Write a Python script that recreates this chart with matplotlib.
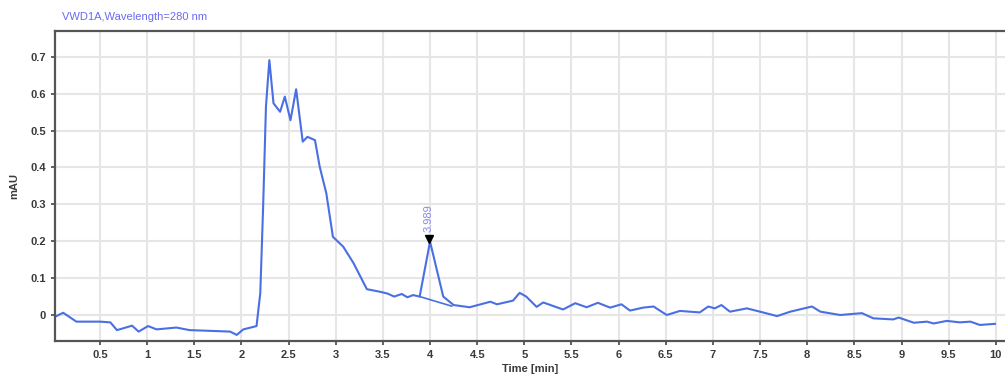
import matplotlib
matplotlib.use("Agg")
import matplotlib.pyplot as plt

plt.rcParams['font.family'] = ['Liberation Sans', 'DejaVu Sans']

# chromatogram trace (time in min, signal in mAU)
time = [0.02, 0.11, 0.25, 0.50, 0.61, 0.68, 0.84, 0.91, 1.01, 1.10, 1.31, 1.45,
        1.67, 1.88, 1.95, 2.02, 2.13, 2.16, 2.20, 2.23, 2.26, 2.296, 2.34, 2.41,
        2.46, 2.52, 2.58, 2.65, 2.70, 2.78, 2.83, 2.90, 2.97, 3.08, 3.19, 3.33,
        3.47, 3.55, 3.62, 3.70, 3.76, 3.82, 3.89, 4.00, 4.14, 4.25, 4.42, 4.64,
        4.71, 4.88, 4.95, 5.02, 5.13, 5.20, 5.41, 5.54, 5.66, 5.78, 5.91, 6.03,
        6.12, 6.26, 6.37, 6.51, 6.65, 6.86, 6.95, 7.02, 7.09, 7.18, 7.36, 7.53,
        7.68, 7.82, 8.05, 8.14, 8.35, 8.58, 8.70, 8.91, 8.97, 9.13, 9.27, 9.34,
        9.48, 9.62, 9.73, 9.83, 9.99]
signal = [-0.005, 0.006, -0.018, -0.018, -0.020, -0.041, -0.029, -0.045, -0.030,
          -0.039, -0.034, -0.041, -0.043, -0.045, -0.054, -0.039, -0.032, -0.030,
          0.060, 0.293, 0.565, 0.691, 0.574, 0.551, 0.592, 0.528, 0.612, 0.470,
          0.483, 0.474, 0.402, 0.330, 0.212, 0.185, 0.140, 0.070, 0.063, 0.058,
          0.050, 0.057, 0.048, 0.054, 0.050, 0.199, 0.050, 0.027, 0.021, 0.036,
          0.029, 0.039, 0.060, 0.050, 0.022, 0.034, 0.015, 0.032, 0.021, 0.033,
          0.020, 0.029, 0.012, 0.020, 0.023, 0.000, 0.011, 0.007, 0.023, 0.018,
          0.027, 0.009, 0.018, 0.007, -0.003, 0.009, 0.023, 0.009, 0.000, 0.005,
          -0.009, -0.012, -0.007, -0.021, -0.018, -0.023, -0.016, -0.020, -0.018,
          -0.027, -0.024]

# integrated peak: baseline and label
peak_rt = 3.989
peak_top = 0.205
base_x = [3.89, 4.23]
base_y = [0.050, 0.024]

xticks = [0.5, 1, 1.5, 2, 2.5, 3, 3.5, 4, 4.5, 5, 5.5, 6, 6.5, 7, 7.5, 8, 8.5, 9, 9.5, 10]
xticklabels = ['0.5', '1', '1.5', '2', '2.5', '3', '3.5', '4', '4.5', '5', '5.5', '6',
               '6.5', '7', '7.5', '8', '8.5', '9', '9.5', '10']
yticks = [0, 0.1, 0.2, 0.3, 0.4, 0.5, 0.6, 0.7]
yticklabels = ['0', '0.1', '0.2', '0.3', '0.4', '0.5', '0.6', '0.7']

fig = plt.figure(figsize=(10.05, 3.84), dpi=100)
ax = fig.add_axes([55/1005, 43/384, 950/1005, 310/384])

ax.plot(time, signal, color='#4a6fe3', lw=1.5)
ax.plot(base_x, base_y, color='#4a6fe3', lw=1.2)
ax.plot([peak_rt], [peak_top], marker='v', color='black', markersize=6, ls='none')
ax.text(peak_rt, peak_top + 0.02, '3.989', rotation=90, ha='center', va='bottom',
        color='#8a8ae6', fontsize=8)

ax.set_xlim(0.023, 10.097)
ax.set_ylim(-0.0705, 0.770)
ax.set_xticks(xticks)
ax.set_xticklabels(xticklabels)
ax.set_yticks(yticks)
ax.set_yticklabels(yticklabels)
ax.grid(True, color='#e6e6e6', lw=1.5)
ax.set_axisbelow(True)

for s in ['left', 'bottom', 'top']:
    ax.spines[s].set_color('#555555')
    ax.spines[s].set_linewidth(1.6)
ax.spines['right'].set_visible(False)
ax.tick_params(axis='both', colors='#444444', labelsize=8, length=3, width=1.2)
for lab in ax.get_xticklabels() + ax.get_yticklabels():
    lab.set_fontweight('bold')
    lab.set_color('#3a3a3a')

ax.set_xlabel('Time [min]', fontsize=8, fontweight='bold', color='#3a3a3a', labelpad=3)
ax.set_ylabel('mAU', fontsize=8, fontweight='bold', color='#3a3a3a', labelpad=8)
fig.text(62/1005, 1 - 17/384, 'VWD1A,Wavelength=280 nm', color='#6a6af0',
         fontsize=8, va='center', ha='left')

fig.savefig('out.png', dpi=100)
